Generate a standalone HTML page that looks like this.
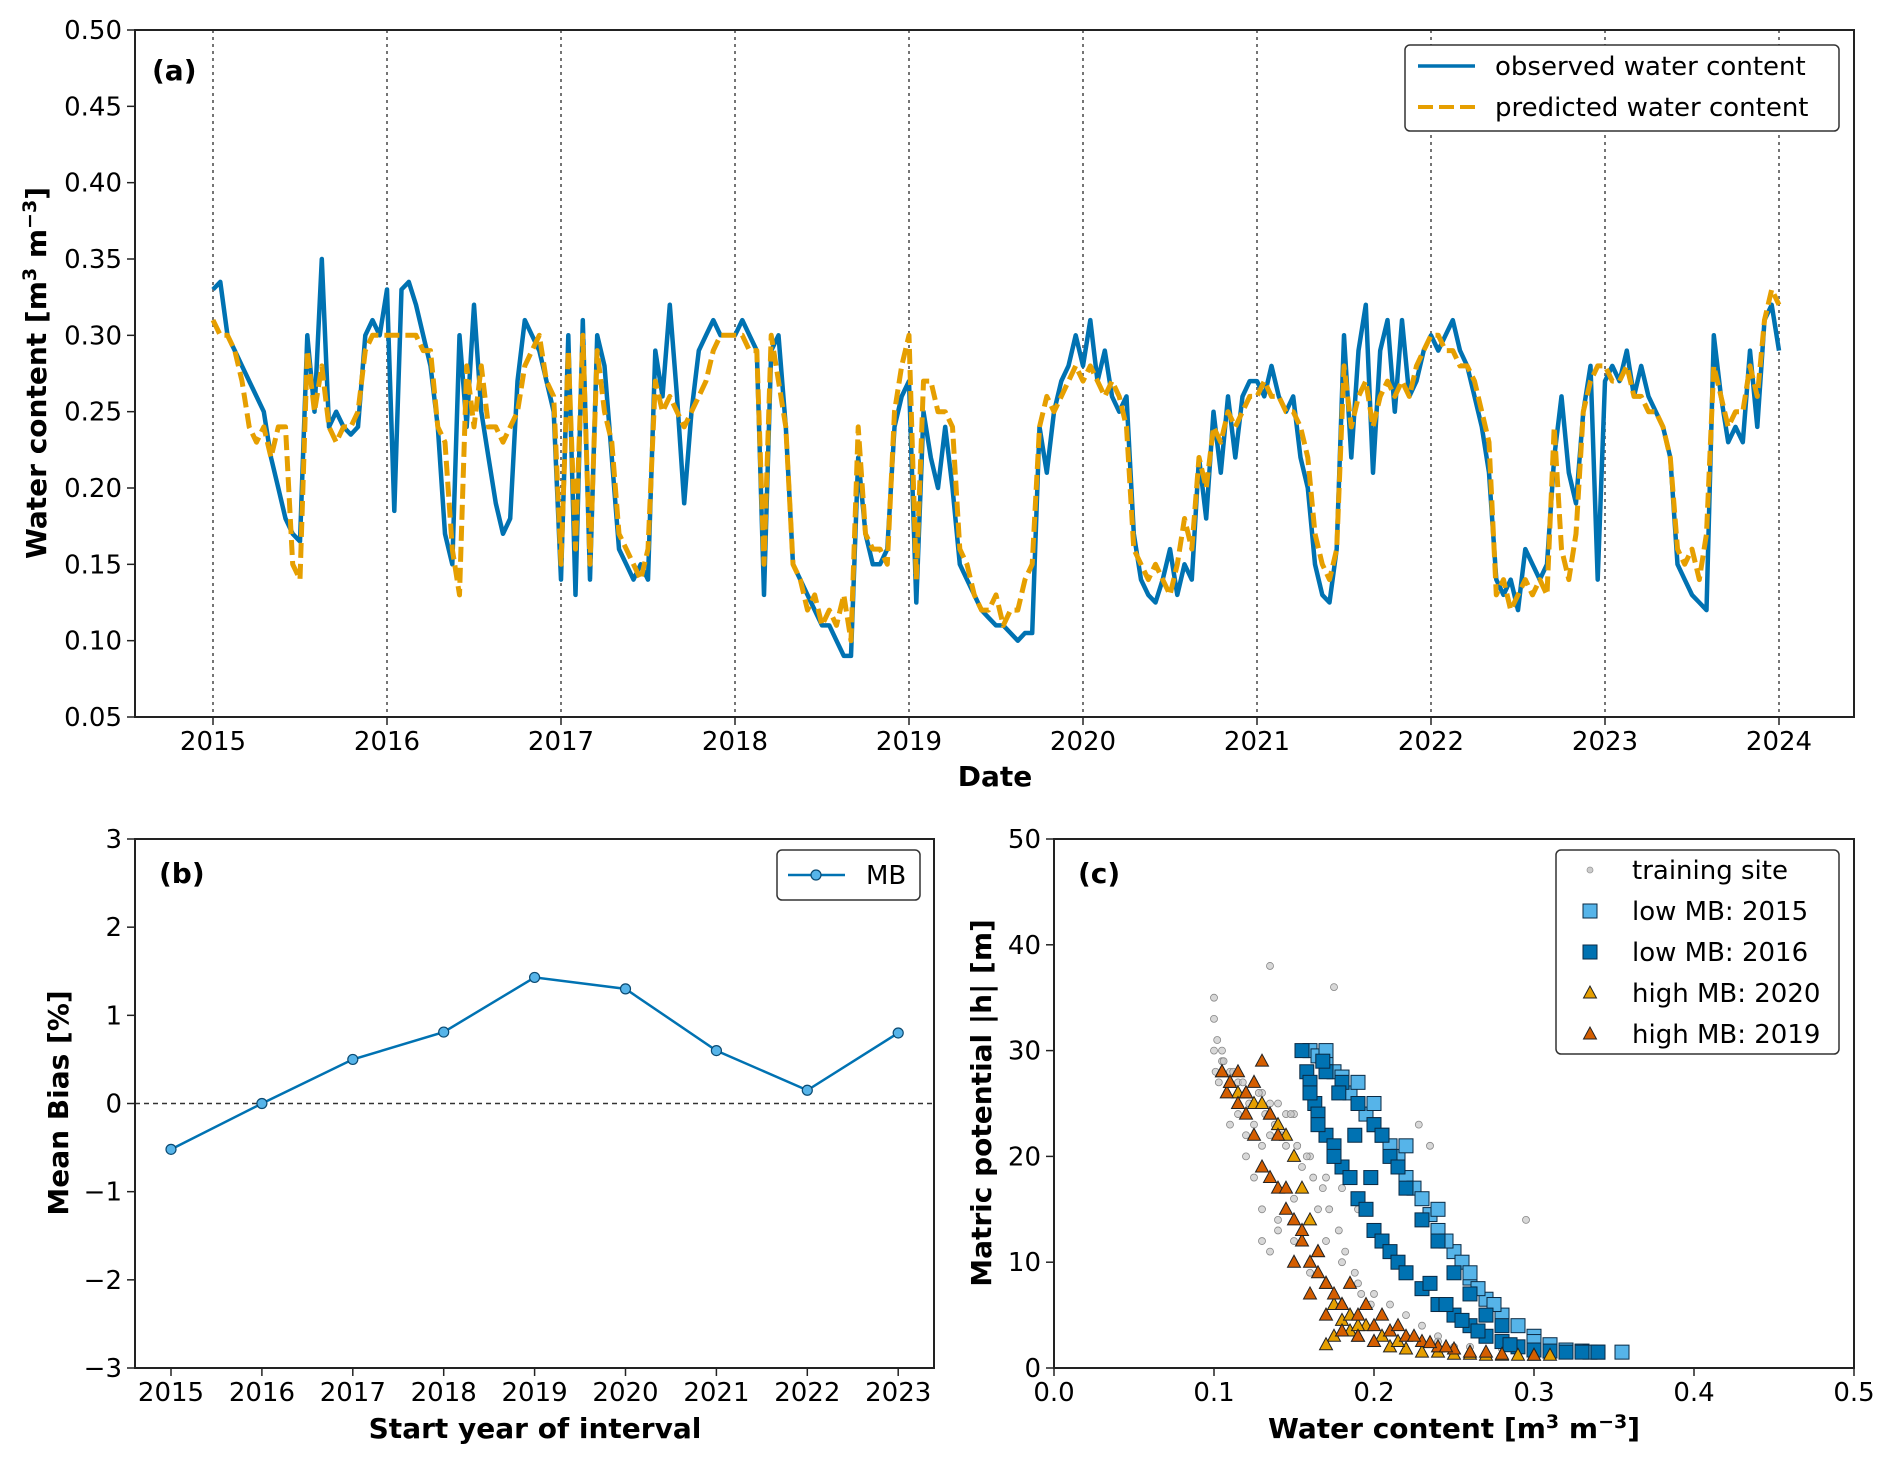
<!DOCTYPE html>
<html><head><meta charset="utf-8">
<style>
html,body{margin:0;padding:0;background:#fff;}
svg{display:block;font-family:"DejaVu Sans","Liberation Sans",sans-serif;}
</style></head>
<body>
<svg id="fig" width="1892" height="1464" viewBox="0 0 1892 1464" xmlns="http://www.w3.org/2000/svg">
<rect width="1892" height="1464" fill="#fff"/>
<g id="pa"></g>
<g id="pb"></g>
<g id="pc"></g>
</svg>
<script>
// ---------- Panel (a) data: semi-monthly samples per year ----------
const years = [2015,2016,2017,2018,2019,2020,2021,2022,2023];
const obs2015=[0.33,0.335,0.30,0.29,0.28,0.27,0.26,0.25,0.22,0.20,0.18,0.17,0.165,0.30,0.25,0.35,0.24,0.25,0.24,0.235,0.24,0.30,0.31,0.30];
const obs2016=[0.33,0.185,0.33,0.335,0.32,0.30,0.28,0.24,0.17,0.15,0.30,0.24,0.32,0.25,0.22,0.19,0.17,0.18,0.27,0.31,0.30,0.29,0.27,0.25];
const obs2017=[0.14,0.30,0.13,0.31,0.14,0.30,0.28,0.22,0.16,0.15,0.14,0.15,0.14,0.29,0.26,0.32,0.26,0.19,0.25,0.29,0.30,0.31,0.30,0.30];
const obs2018=[0.30,0.31,0.30,0.29,0.13,0.29,0.30,0.24,0.15,0.14,0.13,0.12,0.11,0.11,0.10,0.09,0.09,0.22,0.17,0.15,0.15,0.16,0.24,0.26];
const obs2019=[0.27,0.125,0.25,0.22,0.20,0.24,0.20,0.15,0.14,0.13,0.12,0.115,0.11,0.11,0.105,0.10,0.105,0.105,0.24,0.21,0.25,0.27,0.28,0.30];
const obs2020=[0.28,0.31,0.27,0.29,0.26,0.25,0.26,0.17,0.14,0.13,0.125,0.14,0.16,0.13,0.15,0.14,0.22,0.18,0.25,0.21,0.26,0.22,0.26,0.27];
const obs2021=[0.27,0.26,0.28,0.26,0.25,0.26,0.22,0.20,0.15,0.13,0.125,0.16,0.30,0.22,0.29,0.32,0.21,0.29,0.31,0.25,0.31,0.26,0.27,0.29];
const obs2022=[0.30,0.29,0.30,0.31,0.29,0.28,0.26,0.24,0.21,0.14,0.13,0.14,0.12,0.16,0.15,0.14,0.15,0.22,0.26,0.21,0.19,0.25,0.28,0.14];
const obs2023=[0.27,0.28,0.27,0.29,0.26,0.28,0.26,0.25,0.24,0.22,0.15,0.14,0.13,0.125,0.12,0.30,0.26,0.23,0.24,0.23,0.29,0.24,0.31,0.32];
const obsEnd=0.29;
const pred2015=[0.31,0.30,0.30,0.29,0.27,0.24,0.23,0.24,0.22,0.24,0.24,0.15,0.14,0.29,0.25,0.28,0.24,0.23,0.24,0.24,0.25,0.29,0.30,0.30];
const pred2016=[0.30,0.30,0.30,0.30,0.30,0.29,0.29,0.24,0.23,0.16,0.13,0.28,0.24,0.28,0.24,0.24,0.23,0.24,0.25,0.28,0.29,0.30,0.27,0.26];
const pred2017=[0.15,0.29,0.16,0.30,0.15,0.29,0.25,0.23,0.17,0.16,0.15,0.14,0.16,0.27,0.25,0.26,0.25,0.24,0.25,0.26,0.27,0.29,0.30,0.30];
const pred2018=[0.30,0.30,0.29,0.29,0.15,0.30,0.27,0.24,0.15,0.14,0.12,0.13,0.11,0.12,0.11,0.13,0.10,0.24,0.17,0.16,0.16,0.15,0.25,0.28];
const pred2019=[0.30,0.14,0.27,0.27,0.25,0.25,0.24,0.16,0.15,0.13,0.12,0.12,0.13,0.11,0.12,0.12,0.14,0.15,0.24,0.26,0.25,0.26,0.27,0.28];
const pred2020=[0.27,0.28,0.27,0.26,0.27,0.26,0.24,0.16,0.15,0.14,0.15,0.14,0.13,0.15,0.18,0.16,0.22,0.20,0.24,0.23,0.25,0.24,0.25,0.26];
const pred2021=[0.26,0.27,0.26,0.26,0.25,0.25,0.24,0.22,0.17,0.15,0.14,0.16,0.28,0.24,0.26,0.27,0.24,0.26,0.27,0.26,0.27,0.26,0.28,0.29];
const pred2022=[0.30,0.30,0.29,0.29,0.28,0.28,0.27,0.25,0.23,0.13,0.14,0.12,0.13,0.14,0.13,0.14,0.13,0.24,0.16,0.14,0.17,0.25,0.27,0.28];
const pred2023=[0.28,0.27,0.27,0.28,0.26,0.26,0.25,0.25,0.24,0.22,0.16,0.15,0.16,0.14,0.17,0.28,0.26,0.24,0.25,0.25,0.28,0.26,0.31,0.33];
const predEnd=0.32;
const aYTicks=["0.05","0.10","0.15","0.20","0.25","0.30","0.35","0.40","0.45","0.50"];
const aXTicks=["2015","2016","2017","2018","2019","2020","2021","2022","2023","2024"];

// ---------- Panel (b) data ----------
const bYears=["2015","2016","2017","2018","2019","2020","2021","2022","2023"];
const bMB=[-0.52,0.0,0.50,0.81,1.43,1.30,0.60,0.15,0.80];
const bYTicks=[-3,-2,-1,0,1,2,3];

// ---------- Panel (c) data ----------
const c15x=[0.16,0.165,0.17,0.175,0.18,0.185,0.19,0.195,0.2,0.205,0.21,0.215,0.22,0.225,0.23,0.235,0.24,0.25,0.255,0.26,0.27,0.28,0.29,0.3,0.31,0.32,0.33,0.34,0.355,0.265,0.245,0.17,0.19,0.2,0.22,0.24,0.26,0.275,0.3,0.335];
const c15y=[30,29.5,29,28,27.5,26,25,24,23,22,21,20,18,17,16,14.5,13,11,10,8.5,6.5,5,4,3,2.2,1.7,1.6,1.5,1.5,7.5,12,30,27,25,21,15,9,6,2.5,1.5];
const c16x=[0.155,0.158,0.16,0.163,0.165,0.17,0.175,0.18,0.185,0.19,0.195,0.2,0.205,0.21,0.215,0.22,0.23,0.24,0.25,0.26,0.27,0.28,0.29,0.3,0.32,0.34,0.17,0.18,0.19,0.2,0.205,0.21,0.215,0.22,0.23,0.24,0.25,0.26,0.27,0.28,0.16,0.165,0.175,0.168,0.178,0.188,0.198,0.235,0.245,0.255,0.265,0.285,0.31,0.33];
const c16y=[30,28,27,25,24,22,21,19,18,16,15,13,12,11,10,9,7.5,6,5,4,3,2.5,2,1.7,1.5,1.5,28,27,25,23,22,20,19,17,14,12,9,7,5,4,26,23,20,29,26,22,18,8,6,4.5,3.5,2.2,1.6,1.5];
const c20x=[0.105,0.11,0.115,0.12,0.125,0.13,0.135,0.14,0.145,0.15,0.155,0.16,0.165,0.17,0.175,0.18,0.185,0.19,0.2,0.21,0.22,0.23,0.25,0.27,0.29,0.31,0.175,0.17,0.185,0.195,0.205,0.215,0.24,0.26,0.28,0.3,0.18,0.19];
const c20y=[28,27,26,26,25,25,24,23,22,20,17,14,11,8,6,4.5,3.5,3,2.5,2,1.8,1.5,1.3,1.2,1.2,1.2,3,2.2,5,4,3,2.5,1.5,1.3,1.2,1.2,6,4];
const c19x=[0.105,0.108,0.11,0.115,0.12,0.125,0.13,0.135,0.14,0.13,0.135,0.14,0.145,0.15,0.155,0.16,0.165,0.17,0.175,0.18,0.19,0.2,0.21,0.22,0.23,0.24,0.25,0.26,0.28,0.3,0.15,0.16,0.17,0.18,0.19,0.2,0.12,0.115,0.125,0.145,0.155,0.165,0.185,0.195,0.205,0.215,0.225,0.235,0.245,0.27];
const c19y=[28,26,27,25,26,27,29,24,22,19,18,17,15,14,12,10,9,8,7,6,5,4,3.5,3,2.5,2,1.8,1.5,1.3,1.2,10,7,5,3.5,3,2.5,24,28,22,17,13,11,8,6,5,4,3,2.4,2,1.5];
const cTx=[0.1,0.1,0.102,0.105,0.11,0.115,0.12,0.125,0.13,0.135,0.14,0.145,0.15,0.11,0.12,0.13,0.14,0.15,0.16,0.17,0.18,0.19,0.2,0.14,0.15,0.16,0.17,0.18,0.19,0.2,0.21,0.22,0.23,0.24,0.25,0.13,0.135,0.14,0.16,0.18,0.2,0.22,0.24,0.26,0.28,0.3,0.228,0.235,0.295,0.175,0.135,0.105,0.12,0.125,0.165,0.1,0.101,0.103,0.106,0.108,0.112,0.118,0.122,0.128,0.132,0.138,0.142,0.148,0.152,0.158,0.162,0.168,0.172,0.178,0.182,0.188,0.192,0.198,0.115,0.125,0.135,0.145,0.155,0.13,0.14,0.15,0.16,0.17];
const cTy=[33,35,31,29,28,27,26,27,26,25,25,24,24,23,22,21,22,20,20,18,17,15,13,17,16,14,12,10,8,7,6,5,4,3,2,12,11,13,9,6,4,3,2.5,2,1.8,1.6,23,21,14,36,38,30,20,18,15,30,28,27,29,26,28,27,25,26,24,23,22,24,21,20,18,17,15,13,11,9,7,6,24,23,22,21,19,15,14,12,10,8];
const cXTicks=["0.0","0.1","0.2","0.3","0.4","0.5"];
const cYTicks=[0,10,20,30,40,50];

const NS="http://www.w3.org/2000/svg";
function mk(tag,attrs,parent){const e=document.createElementNS(NS,tag);for(const k in attrs)e.setAttribute(k,attrs[k]);if(parent)parent.appendChild(e);return e;}
function txt(parent,x,y,s,size,anchor,weight){const t=mk('text',{x:x,y:y,'font-size':size,'text-anchor':anchor||'middle','font-weight':weight||'normal',fill:'#000'},parent);t.textContent=s;return t;}

// ================= Panel (a) =================
const pa=document.getElementById('pa');
const aL=135,aR=1854,aT=30,aB=717;
const ax=t=>213+(t-2015)*174;
const ay=v=>aB-(v-0.05)/0.45*(aB-aT);
aXTicks.forEach(s=>{const x=ax(+s);
  const g=mk('line',{x1:x,y1:aT,x2:x,y2:aB,stroke:'#666','stroke-width':1.8,'stroke-dasharray':'3,4'},pa);
  
  
  mk('line',{x1:x,y1:aB,x2:x,y2:aB+8,stroke:'#222','stroke-width':1.5},pa);
  const t=txt(pa,x,750,s,26);
  
  
});
aYTicks.forEach(s=>{const y=ay(+s);
  mk('line',{x1:aL-8,y1:y,x2:aL,y2:y,stroke:'#222','stroke-width':1.5},pa);
  const t=txt(pa,aL-13,y+9,s,26,'end');
  
  
});
function series(arrs,endV){const pts=[];arrs.forEach((a,i)=>{a.forEach((v,j)=>{pts.push([ax(years[i]+j/24),ay(v)]);});});pts.push([ax(2024),ay(endV)]);return pts.map(p=>p[0].toFixed(1)+','+p[1].toFixed(1)).join(' ');}
const obsLine=mk('polyline',{points:series([obs2015,obs2016,obs2017,obs2018,obs2019,obs2020,obs2021,obs2022,obs2023],obsEnd),fill:'none',stroke:'#0072b2','stroke-width':4.5,'stroke-linejoin':'round'},pa);


const predLine=mk('polyline',{points:series([pred2015,pred2016,pred2017,pred2018,pred2019,pred2020,pred2021,pred2022,pred2023],predEnd),fill:'none',stroke:'#e69f00','stroke-width':5,'stroke-dasharray':'15,6','stroke-linejoin':'round'},pa);


mk('rect',{x:aL,y:aT,width:aR-aL,height:aB-aT,fill:'none',stroke:'#222','stroke-width':2},pa);
txt(pa,152,80,'(a)',28,'start','bold');
{const t=txt(pa,0,0,'',28,'middle','bold');t.setAttribute('transform','translate(46,373) rotate(-90)');
 t.innerHTML='Water content [m<tspan dy="-10" font-size="19">3</tspan><tspan dy="10"> m</tspan><tspan dy="-10" font-size="19">−3</tspan><tspan dy="10">]</tspan>';
 }
{const t=txt(pa,995,786,'Date',28,'middle','bold');}
{const lg=mk('g',{},pa);
 mk('rect',{x:1405,y:45,width:434,height:86,rx:5,fill:'#fff',stroke:'#333','stroke-width':1.5},lg);
 mk('line',{x1:1418,y1:66,x2:1475,y2:66,stroke:'#0072b2','stroke-width':3.5},lg);
 mk('line',{x1:1418,y1:107,x2:1475,y2:107,stroke:'#e69f00','stroke-width':4,'stroke-dasharray':'15,6'},lg);
 txt(lg,1495,75,'observed water content',26,'start');
 txt(lg,1495,116,'predicted water content',26,'start');}

// ================= Panel (b) =================
const pb=document.getElementById('pb');
const bL=135,bR=934,bT=839,bB=1368;
const bx=i=>171+i*90.9;
const by=v=>bB-(v+3)/6*(bB-bT);
bYears.forEach((s,i)=>{const x=bx(i);mk('line',{x1:x,y1:bB,x2:x,y2:bB+8,stroke:'#222','stroke-width':1.5},pb);
 const t=txt(pb,x,1401,s,26);});
bYTicks.forEach(v=>{const y=by(v);mk('line',{x1:bL-8,y1:y,x2:bL,y2:y,stroke:'#222','stroke-width':1.5},pb);
 const t=txt(pb,bL-13,y+9,v<0?'−'+(-v):String(v),26,'end');});
{const z=mk('line',{x1:bL,y1:by(0),x2:bR,y2:by(0),stroke:'#333','stroke-width':1.5,'stroke-dasharray':'5,4'},pb);}
{const l=mk('polyline',{points:bMB.map((v,i)=>bx(i)+','+by(v)).join(' '),fill:'none',stroke:'#0072b2','stroke-width':2.5},pb);}
bMB.forEach((v,i)=>{const c=mk('circle',{cx:bx(i),cy:by(v),r:5,fill:'#56b4e9',stroke:'#0b4a72','stroke-width':1.2},pb);
 });
mk('rect',{x:bL,y:bT,width:bR-bL,height:bB-bT,fill:'none',stroke:'#222','stroke-width':2},pb);
txt(pb,159,883,'(b)',28,'start','bold');
{const t=txt(pb,0,0,'Mean Bias [%]',28,'middle','bold');t.setAttribute('transform','translate(68,1103) rotate(-90)');}
{const t=txt(pb,535,1438,'Start year of interval',28,'middle','bold');}
{const lg=mk('g',{},pb);
 mk('rect',{x:777,y:850,width:143,height:50,rx:5,fill:'#fff',stroke:'#333','stroke-width':1.5},lg);
 mk('line',{x1:788,y1:875,x2:845,y2:875,stroke:'#0072b2','stroke-width':2.5},lg);
 mk('circle',{cx:816,cy:875,r:5,fill:'#56b4e9',stroke:'#0b4a72','stroke-width':1.2},lg);
 txt(lg,866,884,'MB',26,'start');}

// ================= Panel (c) =================
const pc=document.getElementById('pc');
const cL=1054,cR=1854,cT=839,cB=1368;
const cx=v=>cL+v/0.5*(cR-cL);
const cy=v=>cB-v/50*(cB-cT);
cXTicks.forEach(s=>{const x=cx(+s);mk('line',{x1:x,y1:cB,x2:x,y2:cB+8,stroke:'#222','stroke-width':1.5},pc);
 const t=txt(pc,x,1401,s,26);});
cYTicks.forEach(v=>{const y=cy(v);mk('line',{x1:cL-8,y1:y,x2:cL,y2:y,stroke:'#222','stroke-width':1.5},pc);
 const t=txt(pc,cL-13,y+9,String(v),26,'end');});
const gT=mk('g',{},pc);
cTx.forEach((v,i)=>{mk('circle',{cx:cx(v),cy:cy(cTy[i]),r:3.5,fill:'#c8c8c8',stroke:'#888','stroke-width':0.8,'fill-opacity':0.7},gT);});
function squares(xs,ys,fill,name){const g=mk('g',{},pc);
 xs.forEach((v,i)=>{mk('rect',{x:cx(v)-7,y:cy(ys[i])-7,width:14,height:14,fill:fill,stroke:'#0a2a44','stroke-width':1},g);});}
function tris(xs,ys,fill,name){const g=mk('g',{},pc);
 xs.forEach((v,i)=>{const X=cx(v),Y=cy(ys[i]);mk('polygon',{points:(X)+','+(Y-7)+' '+(X-6.5)+','+(Y+5)+' '+(X+6.5)+','+(Y+5),fill:fill,stroke:'#222','stroke-width':1},g);});}
squares(c15x,c15y,'#56b4e9','low-mb-2015-points');
squares(c16x,c16y,'#0072b2','low-mb-2016-points');
tris(c20x,c20y,'#e69f00','high-mb-2020-points');
tris(c19x,c19y,'#d55e00','high-mb-2019-points');
mk('rect',{x:cL,y:cT,width:cR-cL,height:cB-cT,fill:'none',stroke:'#222','stroke-width':2},pc);
txt(pc,1078,883,'(c)',28,'start','bold');
{const t=txt(pc,0,0,'Matric potential |h| [m]',28,'middle','bold');t.setAttribute('transform','translate(991,1103) rotate(-90)');}
{const t=txt(pc,1454,1438,'',28,'middle','bold');
 t.innerHTML='Water content [m<tspan dy="-10" font-size="19">3</tspan><tspan dy="10"> m</tspan><tspan dy="-10" font-size="19">−3</tspan><tspan dy="10">]</tspan>';
 }
{const lg=mk('g',{},pc);
 mk('rect',{x:1556,y:850,width:283,height:204,rx:5,fill:'#fff',stroke:'#333','stroke-width':1.5},lg);
 const rows=[['training site',870],['low MB: 2015',911],['low MB: 2016',952],['high MB: 2020',993],['high MB: 2019',1034]];
 mk('circle',{cx:1590,cy:rows[0][1],r:3,fill:'#ccc',stroke:'#999','stroke-width':0.8},lg);
 mk('rect',{x:1583,y:rows[1][1]-7,width:14,height:14,fill:'#56b4e9',stroke:'#0a2a44','stroke-width':1},lg);
 mk('rect',{x:1583,y:rows[2][1]-7,width:14,height:14,fill:'#0072b2',stroke:'#0a2a44','stroke-width':1},lg);
 [['#e69f00',rows[3][1]],['#d55e00',rows[4][1]]].forEach(r=>{const Y=r[1];mk('polygon',{points:'1590,'+(Y-7)+' 1583.5,'+(Y+5)+' 1596.5,'+(Y+5),fill:r[0],stroke:'#222','stroke-width':1},lg);});
 rows.forEach(r=>txt(lg,1632,r[1]+9,r[0],26,'start'));}
</script>
</body></html>
